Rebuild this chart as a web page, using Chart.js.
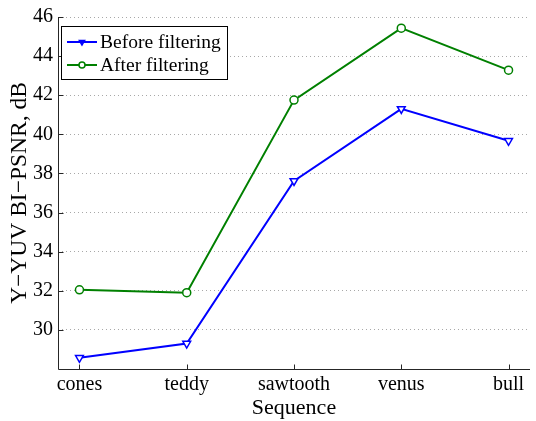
<!DOCTYPE html>
<html><head><meta charset="utf-8">
<script src="https://cdn.jsdelivr.net/npm/chart.js@4"></script>
<style>html,body{margin:0;padding:0;background:#fff}#wrap{width:536px;height:421px}</style>
</head><body><div id="wrap"><canvas id="c" width="536" height="421"></canvas></div>
<script>
const categories = ["cones", "teddy", "sawtooth", "venus", "bull"];
const beforeValues = [28.57, 29.3, 37.62, 41.3, 39.67];
const afterValues = [32.05, 31.9, 41.75, 45.43, 43.28];
const yTicks = [30, 32, 34, 36, 38, 40, 42, 44, 46];
const seriesNames = ["Before filtering", "After filtering"];

const FONT = "'Liberation Serif', 'Times New Roman', serif";

const legendPlugin = {
  id: 'mlegend',
  afterDraw(chart) {
    const ctx = chart.ctx;
    const x0 = 61, y0 = 26, w = 166, h = 53;
    ctx.save();
    ctx.setLineDash([]);
    ctx.fillStyle = '#fff';
    ctx.fillRect(x0, y0, w, h);
    ctx.strokeStyle = '#000';
    ctx.lineWidth = 1;
    ctx.strokeRect(x0 + 0.5, y0 + 0.5, w, h);
    chart.data.datasets.forEach((ds, i) => {
      const yy = y0 + 16 + i * 23;
      ctx.strokeStyle = ds.borderColor;
      ctx.lineWidth = 2;
      ctx.beginPath(); ctx.moveTo(x0 + 6, yy); ctx.lineTo(x0 + 36, yy); ctx.stroke();
      ctx.fillStyle = i === 0 ? ds.borderColor : '#ffffff';
      ctx.lineWidth = 1.5;
      Chart.helpers.drawPoint(ctx, {pointStyle: ds.pointStyle, rotation: ds.pointRotation || 0, radius: 3, borderWidth: 1.5}, x0 + 21, yy);
      ctx.fillStyle = '#000';
      ctx.font = '19.5px ' + FONT;
      ctx.textBaseline = 'middle';
      ctx.textAlign = 'left';
      ctx.fillText(ds.label, x0 + 39, yy + 1);
    });
    ctx.restore();
  }
};

const axesPlugin = {
  id: 'axesLines',
  beforeDatasetsDraw(chart) {
    const ctx = chart.ctx;
    const xs = chart.scales.x, ys = chart.scales.y;
    const a = chart.chartArea;
    ctx.save();
    ctx.setLineDash([]);
    ctx.strokeStyle = '#262626';
    ctx.lineWidth = 1;
    ctx.beginPath();
    const L = Math.round(a.left) + 0.5, B = Math.round(a.bottom) + 0.5;
    ctx.moveTo(L, Math.round(a.top)); ctx.lineTo(L, B); ctx.lineTo(Math.round(a.right), B);
    categories.forEach((c, i) => {
      const px = Math.round(xs.getPixelForValue(i)) + 0.5;
      ctx.moveTo(px, B); ctx.lineTo(px, B - 5);
    });
    yTicks.forEach(v => {
      const py = Math.round(ys.getPixelForValue(v)) + 0.5;
      ctx.moveTo(L, py); ctx.lineTo(L + 5, py);
    });
    ctx.stroke();
    ctx.restore();
  }
};

new Chart(document.getElementById('c'), {
  type: 'line',
  data: {
    datasets: [
      {label: seriesNames[0], data: beforeValues.map((v, i) => ({x: i, y: v})), borderColor: '#0000ff', backgroundColor: '#ffffff', borderWidth: 2, pointStyle: 'triangle', pointRotation: 180, pointRadius: 4.5, pointBorderWidth: 1.5, pointBackgroundColor: '#ffffff', tension: 0},
      {label: seriesNames[1], data: afterValues.map((v, i) => ({x: i, y: v})), borderColor: '#008000', backgroundColor: '#ffffff', borderWidth: 2, pointStyle: 'circle', pointRadius: 4, pointBorderWidth: 1.5, pointBackgroundColor: '#ffffff', tension: 0}
    ]
  },
  options: {
    responsive: false,
    animation: false,
    layout: {padding: {left: 0, right: 2, top: 14, bottom: 0}},
    plugins: {legend: {display: false}, tooltip: {enabled: false}},
    scales: {
      x: {
        type: 'linear', min: -0.2, max: 4.2,
        afterBuildTicks(s) { s.ticks = categories.map((c, i) => ({value: i})); },
        ticks: {callback: (v) => categories[v], color: '#000', font: {family: FONT, size: 20}, padding: 4, maxRotation: 0, autoSkip: false},
        grid: {display: false, drawTicks: false},
        border: {display: false},
        title: {display: true, text: 'Sequence', color: '#000', font: {family: FONT, size: 22}, padding: {top: 0, bottom: 0}},
        afterFit(s) { s.height = 52; }
      },
      y: {
        min: 28, max: 46,
        afterBuildTicks(s) { s.ticks = yTicks.map(v => ({value: v})); },
        ticks: {color: '#000', font: {family: FONT, size: 20}, padding: 5},
        grid: {color: (c) => c.tick && c.tick.value === 28 ? 'rgba(0,0,0,0)' : '#a8a8a8', lineWidth: 1, drawTicks: false},
        border: {display: false, dash: [1, 3]},
        title: {display: true, text: 'Y\u2212YUV BI\u2212PSNR, dB', color: '#000', font: {family: FONT, size: 23.5}, padding: {top: 6, bottom: 0}},
        afterFit(s) { s.width = 58; }
      }
    }
  },
  plugins: [axesPlugin, legendPlugin]
});
</script>
</body></html>
